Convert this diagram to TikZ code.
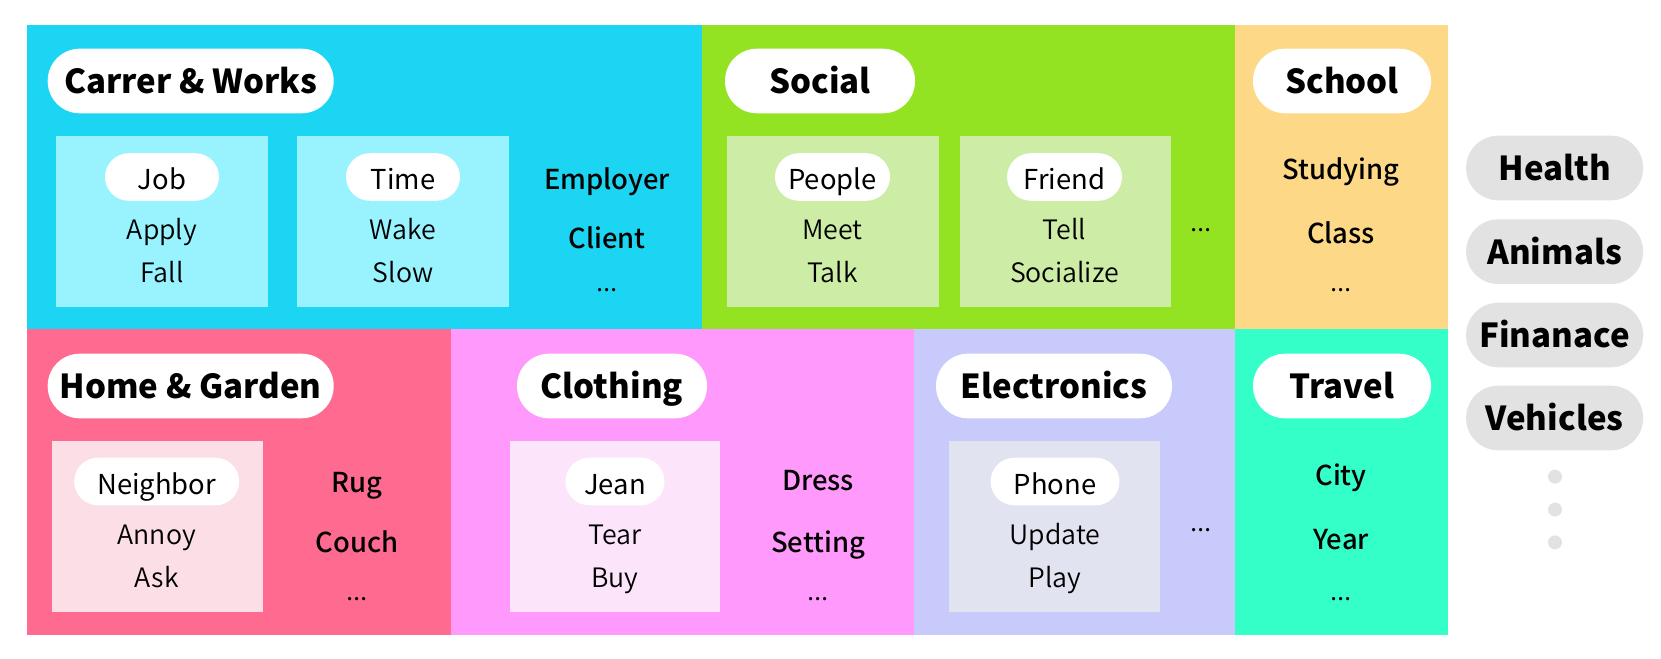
\documentclass[tikz,border=0pt]{standalone}
\usepackage{fontspec}
\setmainfont{Noto Sans CJK KR}
\newfontfamily\medfont{Noto Sans CJK KR Medium}
\newfontfamily\litefont{Noto Sans CJK KR DemiLight}
\usepackage{tikz}
\usetikzlibrary{positioning}
\definecolor{workcol}{RGB}{27,213,242}
\definecolor{worklite}{RGB}{153,243,255}
\definecolor{socialcol}{RGB}{147,227,34}
\definecolor{sociallite}{RGB}{205,237,166}
\definecolor{schoolcol}{RGB}{253,216,134}
\definecolor{homecol}{RGB}{255,106,145}
\definecolor{homelite}{RGB}{251,222,230}
\definecolor{clothcol}{RGB}{255,153,251}
\definecolor{clothlite}{RGB}{252,229,251}
\definecolor{eleccol}{RGB}{200,202,252}
\definecolor{eleclite}{RGB}{225,227,240}
\definecolor{travelcol}{RGB}{53,255,200}
\definecolor{restcol}{RGB}{226,226,226}

\begin{document}
\begin{tikzpicture}[
  every node/.style={text height=0.73em,text depth=0pt},
  title/.style={fill=white,rounded corners=0.32cm,minimum height=0.646cm,inner sep=0pt,
    font=\fontsize{9.4}{11}\selectfont\bfseries},
  sub/.style={fill=white,rounded corners=0.238cm,minimum height=0.476cm,inner sep=0pt,
    font=\fontsize{7.8}{9}\selectfont},
  word/.style={font=\fontsize{7.6}{9}\selectfont\litefont},
  item/.style={font=\fontsize{7.8}{9}\selectfont\medfont},
  rest/.style={fill=restcol,rounded corners=0.32cm,minimum height=0.646cm,minimum width=1.77cm,
    inner sep=0pt,font=\fontsize{9.4}{11}\selectfont\bfseries}]
\useasboundingbox (0,0) rectangle (16.61,6.58);
% panels, top row
\fill[workcol] (0.265,3.286) rectangle (7.02,6.326);
\fill[socialcol] (7.02,3.286) rectangle (12.35,6.326);
\fill[schoolcol] (12.35,3.286) rectangle (14.48,6.326);
% panels, bottom row
\fill[homecol] (0.265,0.235) rectangle (4.51,3.286);
\fill[clothcol] (4.51,0.235) rectangle (9.14,3.286);
\fill[eleccol] (9.14,0.235) rectangle (12.35,3.286);
\fill[travelcol] (12.35,0.235) rectangle (14.48,3.286);
% inner boxes
\fill[worklite] (0.56,3.508) rectangle (2.68,5.224);
\fill[worklite] (2.966,3.508) rectangle (5.085,5.224);
\fill[sociallite] (7.267,3.508) rectangle (9.385,5.224);
\fill[sociallite] (9.597,3.508) rectangle (11.705,5.224);
\fill[homelite] (0.519,0.457) rectangle (2.627,2.173);
\fill[clothlite] (5.095,0.457) rectangle (7.203,2.173);
\fill[eleclite] (9.49,0.457) rectangle (11.60,2.173);
% category titles
\node[title,minimum width=2.86cm] (works) at (1.907,5.77) {Carrer \& Works};
\node[title,minimum width=1.90cm] (social) at (8.20,5.77) {Social};
\node[title,minimum width=1.78cm] (school) at (13.42,5.77) {School};
\node[title,minimum width=2.86cm] (home) at (1.907,2.72) {Home \& Garden};
\node[title,minimum width=1.90cm] (cloth) at (6.12,2.72) {Clothing};
\node[title,minimum width=2.36cm] (elec) at (10.54,2.72) {Electronics};
\node[title,minimum width=1.78cm] (travel) at (13.42,2.72) {Travel};
% sub topics
\node[sub,minimum width=1.14cm] (job) at (1.62,4.81) {Job};
\node[word] (apply) at (1.62,4.31) {Apply};
\node[word] (fall) at (1.62,3.88) {Fall};
\node[sub,minimum width=1.14cm] (time) at (4.03,4.81) {Time};
\node[word] (wake) at (4.03,4.31) {Wake};
\node[word] (slow) at (4.03,3.88) {Slow};
\node[sub,minimum width=1.15cm] (people) at (8.325,4.81) {People};
\node[word] (meet) at (8.325,4.31) {Meet};
\node[word] (talk) at (8.325,3.88) {Talk};
\node[sub,minimum width=1.15cm] (friend) at (10.645,4.81) {Friend};
\node[word] (tell) at (10.645,4.31) {Tell};
\node[word] (socialize) at (10.645,3.88) {Socialize};
\node[sub,minimum width=1.65cm] (neighbor) at (1.567,1.765) {Neighbor};
\node[word] (annoy) at (1.567,1.26) {Annoy};
\node[word] (ask) at (1.567,0.83) {Ask};
\node[sub,minimum width=0.99cm] (jean) at (6.15,1.765) {Jean};
\node[word] (tear) at (6.15,1.26) {Tear};
\node[word] (buy) at (6.15,0.83) {Buy};
\node[sub,minimum width=1.29cm] (phone) at (10.55,1.765) {Phone};
\node[word] (update) at (10.55,1.26) {Update};
\node[word] (play) at (10.55,0.83) {Play};
% loose items
\node[item] (employer) at (6.07,4.81) {Employer};
\node[item] (client) at (6.07,4.22) {Client};
\node[word] (workmore) at (6.07,3.79) {...};
\node[word] (socialmore) at (12.01,4.39) {...};
\node[item] (studying) at (13.41,4.91) {Studying};
\node[item] (class) at (13.41,4.27) {Class};
\node[word] (schoolmore) at (13.41,3.79) {...};
\node[item] (rug) at (3.57,1.78) {Rug};
\node[item] (couch) at (3.57,1.18) {Couch};
\node[word] (homemore) at (3.57,0.70) {...};
\node[item] (dress) at (8.18,1.80) {Dress};
\node[item] (setting) at (8.18,1.18) {Setting};
\node[word] (clothmore) at (8.18,0.70) {...};
\node[word] (elecmore) at (12.01,1.39) {...};
\node[item] (city) at (13.41,1.855) {City};
\node[item] (year) at (13.41,1.21) {Year};
\node[word] (travelmore) at (13.41,0.70) {...};
% other categories
\foreach \y/\l/\n in {4.90/Health/health, 4.063/Animals/animals, 3.23/Finanace/finance, 2.40/Vehicles/vehicles}{
  \node[rest] (\n) at (15.546,\y) {\l};
}
\foreach \y in {1.813,1.485,1.156}{
  \fill[restcol] (15.55,\y) circle (0.07);
}
\end{tikzpicture}
\end{document}
